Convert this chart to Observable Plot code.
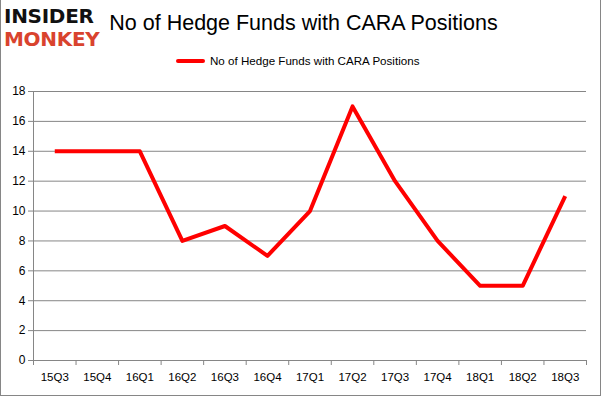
<!DOCTYPE html>
<html>
<head>
<meta charset="utf-8">
<script src="https://cdn.jsdelivr.net/npm/d3@7"></script>
<script src="https://cdn.jsdelivr.net/npm/@observablehq/plot@0.6"></script>
<style>
  html, body { margin: 0; padding: 0; background: #fff; }
  #wrap { position: relative; width: 601px; height: 396px; overflow: hidden; font-family: "Liberation Sans", Arial, sans-serif; }
  #frame { position: absolute; left: 0; top: -1px; border: 1px solid #868686; box-sizing: border-box; width: 601px; height: 397px; pointer-events: none; }
  #logo { position: absolute; left: 4px; top: 5px; font-family: "DejaVu Sans", sans-serif; font-weight: 900; line-height: 23px; }
  #logo .a { color: #111; font-size: 20px; display: block; letter-spacing: -0.3px; }
  #logo .b { color: #d9432e; font-size: 20px; display: block; letter-spacing: -0.3px; }
  #title { position: absolute; left: 0; width: 601px; top: 11px; text-align: center; font-size: 21.5px; color: #000; padding-left: 3px; }
  #legend { position: absolute; top: 54px; left: 176px; font-size: 11.6px; color: #000; display: flex; align-items: center; }
  #legend .sw { width: 29px; height: 4px; background: #ff0000; border-radius: 2px; margin-right: 5px; }
  svg { position: absolute; left: 0; top: 0; }
</style>
</head>
<body>
<div id="wrap">
  <div id="chart"></div>
  <div id="logo"><span class="a">INSIDER</span><span class="b">MONKEY</span></div>
  <div id="title">No of Hedge Funds with CARA Positions</div>
  <div id="legend"><div class="sw"></div><span>No of Hedge Funds with CARA Positions</span></div>
  <div id="frame"></div>
</div>
<script>
const quarters = ["15Q3","15Q4","16Q1","16Q2","16Q3","16Q4","17Q1","17Q2","17Q3","17Q4","18Q1","18Q2","18Q3"];
const funds = [14,14,14,8,9,7,10,17,12,8,5,5,11];
const yTicks = [0,2,4,6,8,10,12,14,16,18];

const idx = quarters.map((q, i) => i);
const bounds = quarters.map((q, i) => i - 0.5).concat([quarters.length - 0.5]);

const plot = Plot.plot({
  width: 601,
  height: 396,
  marginLeft: 33,
  marginRight: 15,
  marginTop: 91,
  marginBottom: 36,
  x: { domain: [-0.5, quarters.length - 0.5], axis: null },
  y: { domain: [0, 18], axis: null },
  style: { background: "transparent", fontFamily: "Liberation Sans, Arial, sans-serif", fontSize: "11.5px" },
  marks: [
    Plot.ruleY(yTicks, { stroke: "#868686", strokeWidth: 1 }),
    Plot.ruleY(yTicks, { x1: -0.5, x2: -0.5, insetLeft: -5, stroke: "#868686" }),
    Plot.ruleX([-0.5], { stroke: "#868686" }),
    Plot.ruleX(bounds, { y1: 0, y2: 0, insetBottom: -5, stroke: "#868686" }),
    Plot.text(yTicks, { x: -0.5, y: d => d, dx: -8, textAnchor: "end", fill: "#000", fontSize: 12 }),
    Plot.text(idx, { x: d => d, y: 0, dy: 17, text: d => quarters[d], fill: "#000", fontSize: 11.5 }),
    Plot.line(idx, { x: d => d, y: d => funds[d], stroke: "#ff0000", strokeWidth: 4, strokeLinejoin: "round", strokeLinecap: "butt" })
  ]
});
document.getElementById("chart").appendChild(plot);
</script>
</body>
</html>
